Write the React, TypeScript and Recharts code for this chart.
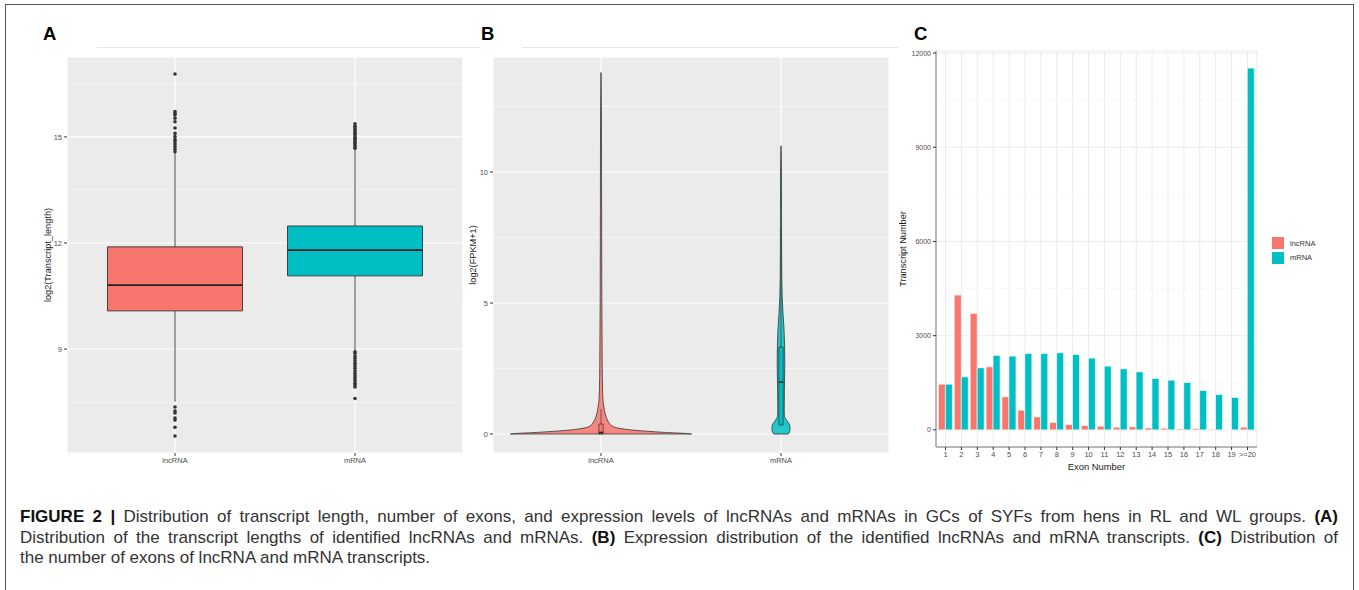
import React from 'react';
import {
  ComposedChart,
  BarChart,
  Bar,
  XAxis,
  YAxis,
  CartesianGrid,
  ReferenceArea,
  ReferenceLine,
  Scatter,
  Area,
  Legend,
  Label,
} from 'recharts';

const FF = '"Liberation Sans", Arial, Helvetica, sans-serif';

// ---------- shared ----------
const groups = ['lncRNA', 'mRNA'];
const groupPos = [1, 2];
const colors = ['#F8766D', '#00BFC4'];

// ---------- Panel A : log2(Transcript_length) boxplot ----------
const lenQ1 = [10.08, 11.07];
const lenMedian = [10.81, 11.8];
const lenQ3 = [11.89, 12.48];
const lenWhiskerLow = [7.51, 8.97];
const lenWhiskerHigh = [14.55, 14.66];
const lncLenOutliers = [16.78, 15.72, 15.67, 15.62, 15.53, 15.43, 15.25, 15.1, 15.01, 14.93, 14.87, 14.8, 14.73, 14.65, 14.58, 7.36, 7.25, 7.19, 7.05, 6.99, 6.79, 6.54];
const mLenOutliers = [15.37, 15.3, 15.25, 15.2, 15.15, 15.1, 15.06, 15.0, 14.96, 14.92, 14.87, 14.82, 14.77, 14.72, 14.68, 8.92, 8.88, 8.8, 8.74, 8.67, 8.6, 8.53, 8.46, 8.38, 8.31, 8.24, 8.17, 8.1, 8.03, 7.98, 7.93, 7.6];
const lenTicks = [9, 12, 15];
const lenMinor = [7.5, 10.5, 13.5, 16.5];
const lenDomain = [6.06, 17.26];

// ---------- Panel B : log2(FPKM+1) violin ----------
const fpkmGrid = [0, 0.03, 0.06, 0.09, 0.14, 0.2, 0.28, 0.38, 0.5, 0.66, 0.8, 1.0, 1.3, 1.7, 2.2, 2.7, 3.3, 4.0, 4.6, 5.2, 5.9, 7, 8.5, 10, 11, 12.5, 13.8];
const lncDensity = [0.503, 0.447, 0.358, 0.291, 0.19, 0.117, 0.067, 0.05, 0.038, 0.028, 0.022, 0.017, 0.011, 0.0089, 0.0073, 0.0067, 0.0061, 0.0056, 0.005, 0.0045, 0.0042, 0.0039, 0.0034, 0.0031, 0.0028, 0.0022, 0];
const mDensity = [0.039, 0.0436, 0.0464, 0.048, 0.0497, 0.0503, 0.0497, 0.0458, 0.0335, 0.0201, 0.0179, 0.0179, 0.0184, 0.019, 0.0201, 0.0212, 0.0201, 0.0168, 0.0112, 0.0067, 0.0045, 0.0034, 0.0028, 0.0025, 0, null, null];
const fpkmQ1 = [0, 0.34];
const fpkmMedian = [0.06, 1.98];
const fpkmQ3 = [0.38, 3.32];
const fpkmWhiskerHigh = [0.95, 7.8];
const innerBoxHalf = 0.012;
const fpkmTicks = [0, 5, 10];
const fpkmMinor = [2.5, 7.5, 12.5];
const fpkmDomain = [-0.725, 14.39];

const violinRange = (center: number, half: number | null) =>
  half == null ? [null, null] : [center - half, center + half];

const violinTable = fpkmGrid.map((y, i) => ({
  y,
  lncRNA: violinRange(groupPos[0], lncDensity[i]),
  mRNA: violinRange(groupPos[1], mDensity[i]),
}));

// ---------- Panel C : exon number bars ----------
const exonLabels = ['1', '2', '3', '4', '5', '6', '7', '8', '9', '10', '11', '12', '13', '14', '15', '16', '17', '18', '19', '>=20'];
const lncExon = [1455, 4293, 3709, 2008, 1052, 627, 414, 234, 170, 138, 117, 85, 96, 64, 53, 32, 43, 21, 10, 85];
const mExon = [1455, 1690, 1977, 2370, 2348, 2433, 2433, 2455, 2402, 2285, 2030, 1945, 1849, 1636, 1583, 1509, 1254, 1126, 1031, 11520];
const exonTicks = [0, 3000, 6000, 9000, 12000];
const exonMinor = [1500, 4500, 7500, 10500];
const exonDomain = [-545, 12065];

const exonTable = exonLabels.map((e, i) => ({ exon: e, lncRNA: lncExon[i], mRNA: mExon[i] }));

const tickStyle = { fill: '#4D4D4D', fontSize: 7.5, fontFamily: FF };
const titleStyle = { fill: '#1A1A1A', fontSize: 9.2, fontFamily: FF, textAnchor: 'middle' as const };
const frame = { stroke: '#7A7A7A', strokeWidth: 1 };

const dot = (p: any) => <circle cx={p.cx} cy={p.cy} r={1.8} fill="#333333" />;

function PanelA() {
  const outlierData = [
    ...lncLenOutliers.map((v) => ({ x: groupPos[0], y: v })),
    ...mLenOutliers.map((v) => ({ x: groupPos[1], y: v })),
  ];
  return (
    <ComposedChart width={480} height={480} margin={{ top: 57, right: 17, bottom: 0, left: 0 }}>
      <CartesianGrid fill="#EBEBEB" stroke="#FFFFFF" strokeWidth={1.1} />
      <CartesianGrid stroke="#FFFFFF" strokeWidth={0.5} vertical={false} horizontalValues={lenMinor} />
      <XAxis type="number" dataKey="x" domain={[0.4, 2.6]} ticks={groupPos} allowDataOverflow interval={0}
        tickFormatter={(v: number) => groups[v - 1]} height={27} axisLine={false}
        tickLine={{ stroke: '#333333' }} tickSize={3} tick={tickStyle} />
      <YAxis type="number" dataKey="y" domain={lenDomain} ticks={lenTicks} allowDataOverflow width={67}
        axisLine={false} tickLine={{ stroke: '#333333' }} tickSize={3} tick={tickStyle}>
        <Label value="log2(Transcript_length)" angle={-90} position="insideLeft" offset={48} style={titleStyle} />
      </YAxis>
      {groupPos.map((g, i) => (
        <ReferenceLine key={'wl' + i} segment={[{ x: g, y: lenWhiskerLow[i] }, { x: g, y: lenQ1[i] }]} stroke="#333333" strokeWidth={0.9} />
      ))}
      {groupPos.map((g, i) => (
        <ReferenceLine key={'wh' + i} segment={[{ x: g, y: lenQ3[i] }, { x: g, y: lenWhiskerHigh[i] }]} stroke="#333333" strokeWidth={0.9} />
      ))}
      {groupPos.map((g, i) => (
        <ReferenceArea key={'box' + i} x1={g - 0.375} x2={g + 0.375} y1={lenQ1[i]} y2={lenQ3[i]}
          fill={colors[i]} fillOpacity={1} stroke="#333333" strokeWidth={0.9} />
      ))}
      {groupPos.map((g, i) => (
        <ReferenceLine key={'med' + i} segment={[{ x: g - 0.375, y: lenMedian[i] }, { x: g + 0.375, y: lenMedian[i] }]} stroke="#222222" strokeWidth={1.8} />
      ))}
      <Scatter data={outlierData} dataKey="y" shape={dot} isAnimationActive={false} />
    </ComposedChart>
  );
}

function PanelB() {
  return (
    <ComposedChart layout="vertical" width={480} height={480} data={violinTable}
      margin={{ top: 57, right: 11, bottom: 0, left: 0 }}>
      <CartesianGrid fill="#EBEBEB" stroke="#FFFFFF" strokeWidth={1.1} />
      <CartesianGrid stroke="#FFFFFF" strokeWidth={0.5} vertical={false} horizontalValues={fpkmMinor} />
      <XAxis type="number" domain={[0.4, 2.6]} ticks={groupPos} allowDataOverflow interval={0}
        tickFormatter={(v: number) => groups[v - 1]} height={27} axisLine={false}
        tickLine={{ stroke: '#333333' }} tickSize={3} tick={tickStyle} />
      <YAxis type="number" dataKey="y" domain={fpkmDomain} ticks={fpkmTicks} allowDataOverflow width={73} reversed
        axisLine={false} tickLine={{ stroke: '#333333' }} tickSize={3} tick={tickStyle}>
        <Label value="log2(FPKM+1)" angle={-90} position="insideLeft" offset={53} style={titleStyle} />
      </YAxis>
      <Area dataKey="lncRNA" type="monotone" fill={colors[0]} fillOpacity={0.85} stroke="#333333" strokeWidth={0.8}
        dot={false} activeDot={false} isAnimationActive={false} />
      <Area dataKey="mRNA" type="monotone" fill={colors[1]} fillOpacity={0.85} stroke="#333333" strokeWidth={0.8}
        dot={false} activeDot={false} isAnimationActive={false} />
      <ReferenceLine segment={[{ x: groupPos[0] - lncDensity[0], y: fpkmGrid[0] }, { x: groupPos[0] + lncDensity[0], y: fpkmGrid[0] }]} stroke="#333333" strokeWidth={0.8} />
      <ReferenceLine segment={[{ x: groupPos[1] - (mDensity[0] as number), y: fpkmGrid[0] }, { x: groupPos[1] + (mDensity[0] as number), y: fpkmGrid[0] }]} stroke="#333333" strokeWidth={0.8} />
      {groupPos.map((g, i) => (
        <ReferenceLine key={'bw' + i} segment={[{ x: g, y: fpkmQ3[i] }, { x: g, y: fpkmWhiskerHigh[i] }]} stroke="#333333" strokeWidth={0.7} />
      ))}
      {groupPos.map((g, i) => (
        <ReferenceArea key={'ib' + i} x1={g - innerBoxHalf} x2={g + innerBoxHalf} y1={fpkmQ1[i]} y2={fpkmQ3[i]}
          fill={colors[i]} fillOpacity={1} stroke="#333333" strokeWidth={0.7} />
      ))}
      {groupPos.map((g, i) => (
        <ReferenceLine key={'im' + i} segment={[{ x: g - innerBoxHalf, y: fpkmMedian[i] }, { x: g + innerBoxHalf, y: fpkmMedian[i] }]} stroke="#3A1A1A" strokeWidth={1.4} />
      ))}
    </ComposedChart>
  );
}

const legendContent = (props: any) => {
  const items = (props && props.payload) || [];
  return (
    <div style={{ fontFamily: FF, fontSize: 7.5, color: '#333333' }}>
      {items.map((it: any) => (
        <div key={it.value} style={{ display: 'flex', alignItems: 'center', height: 14.5 }}>
          <span style={{ display: 'inline-block', width: 14, height: 14, background: it.color, border: '0.5px solid #ffffff', boxSizing: 'border-box', marginRight: 5 }} />
          <span>{it.value}</span>
        </div>
      ))}
    </div>
  );
};

function PanelC() {
  return (
    <BarChart width={469} height={480} data={exonTable} margin={{ top: 51, right: 22, bottom: 0, left: 0 }}
      barCategoryGap="5%" barGap={0}>
      <CartesianGrid stroke="#EBEBEB" strokeWidth={1} />
      <CartesianGrid stroke="#F3F3F3" strokeWidth={0.5} vertical={false} horizontalValues={exonMinor} />
      <XAxis dataKey="exon" interval={0} height={33} padding={{ left: 1.6, right: 1.6 }} axisLine={frame}
        tickLine={{ stroke: '#333333' }} tickSize={3} tick={tickStyle}>
        <Label value="Exon Number" position="insideBottom" offset={10} style={{ ...titleStyle, fontSize: 9.4 }} />
      </XAxis>
      <XAxis xAxisId="top" dataKey="exon" orientation="top" height={0} padding={{ left: 1.6, right: 1.6 }}
        tick={false} tickLine={false} axisLine={frame} />
      <YAxis type="number" domain={exonDomain} ticks={exonTicks} allowDataOverflow width={46} axisLine={frame}
        tickLine={{ stroke: '#333333' }} tickSize={3} tick={{ ...tickStyle, fontSize: 7 }}>
        <Label value="Transcript Number" angle={-90} position="insideLeft" offset={13} style={titleStyle} />
      </YAxis>
      <YAxis yAxisId="right" orientation="right" type="number" domain={exonDomain} allowDataOverflow width={0}
        tick={false} tickLine={false} axisLine={frame} />
      <Bar dataKey="lncRNA" name="lncRNA" fill={colors[0]} stroke="#FFFFFF" strokeWidth={0.6} isAnimationActive={false} />
      <Bar dataKey="mRNA" name="mRNA" fill={colors[1]} stroke="#FFFFFF" strokeWidth={0.6} isAnimationActive={false} />
      <Legend layout="horizontal" verticalAlign="middle" align="right" content={legendContent}
        wrapperStyle={{ left: 381, top: 236, right: 'auto', bottom: 'auto', width: 80 }} />
    </BarChart>
  );
}

const letterStyle: React.CSSProperties = {
  position: 'absolute', fontFamily: FF, fontWeight: 700, fontSize: 18.5, lineHeight: 1, color: '#000',
};

export default function App() {
  return (
    <div style={{ position: 'absolute', left: 0, top: 0, width: 1359, height: 590, background: '#fff', overflow: 'hidden' }}>
      <div style={{ position: 'absolute', left: 5, top: 4, width: 1349, height: 590, border: '1.5px solid #555', boxSizing: 'border-box' }} />
      <div style={{ position: 'absolute', left: 97, top: 47, width: 383, height: 1, background: '#E6E6E6' }} />
      <div style={{ position: 'absolute', left: 522, top: 47, width: 376, height: 1, background: '#E6E6E6' }} />
      <div style={{ position: 'absolute', left: 0, top: 0 }}><PanelA /></div>
      <div style={{ position: 'absolute', left: 420, top: 0 }}><PanelB /></div>
      <div style={{ position: 'absolute', left: 890, top: 0 }}><PanelC /></div>
      <div style={{ ...letterStyle, left: 43, top: 25 }}>A</div>
      <div style={{ ...letterStyle, left: 481, top: 25 }}>B</div>
      <div style={{ ...letterStyle, left: 914, top: 25 }}>C</div>
      <div style={{ position: 'absolute', left: 20, top: 507, width: 1318, fontFamily: FF, fontSize: 17, lineHeight: '20.5px', color: '#333' }}>
        <div style={{ textAlign: 'justify', textAlignLast: 'justify' }}>
          <b style={{ color: '#111' }}>FIGURE 2 |</b> Distribution of transcript length, number of exons, and expression levels of lncRNAs and mRNAs in GCs of SYFs from hens in RL and WL groups. <b style={{ color: '#111' }}>(A)</b>
        </div>
        <div style={{ textAlign: 'justify', textAlignLast: 'justify' }}>
          Distribution of the transcript lengths of identified lncRNAs and mRNAs. <b style={{ color: '#111' }}>(B)</b> Expression distribution of the identified lncRNAs and mRNA transcripts. <b style={{ color: '#111' }}>(C)</b> Distribution of
        </div>
        <div>the number of exons of lncRNA and mRNA transcripts.</div>
      </div>
    </div>
  );
}
